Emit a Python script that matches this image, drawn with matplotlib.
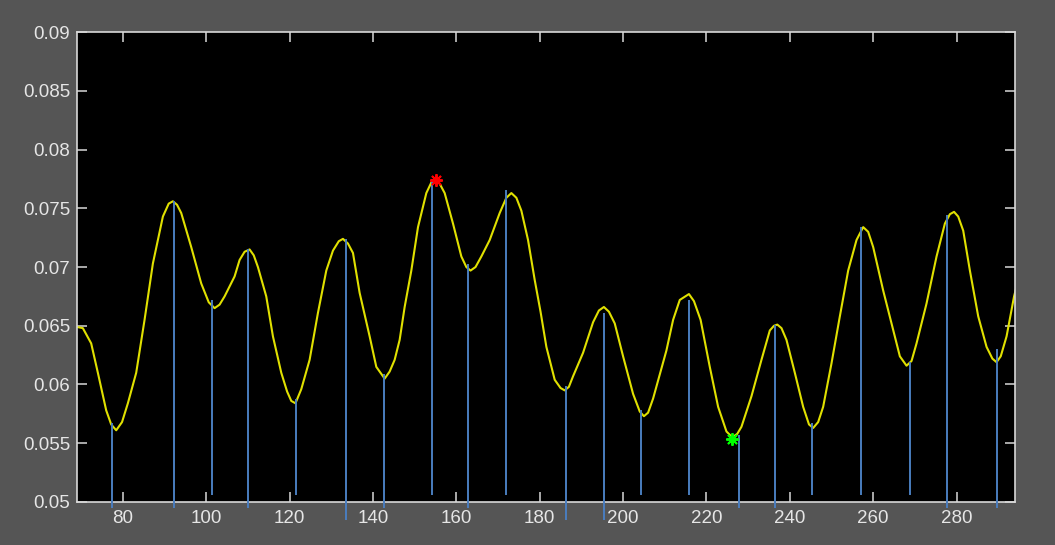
import numpy as np
import matplotlib
matplotlib.use('Agg')
import matplotlib.pyplot as plt

plt.rcParams['font.family'] = ['Liberation Sans', 'DejaVu Sans']

# yellow curve
curve_x = [69.0, 70.4, 72.4, 74.0, 76.0, 77.2, 78.4, 79.8, 81.2, 83.2, 85.2, 87.2, 89.6, 91.0, 92.0,
           93.0, 94.0, 96.4, 98.8, 100.6, 102.0, 103.2, 104.4, 106.8, 108.0, 109.2, 110.4, 111.4,
           112.4, 114.4, 116.0, 118.0, 119.4, 120.4, 121.4, 122.8, 124.8, 126.8, 128.8, 130.4,
           131.8, 132.8, 134.0, 135.2, 136.8, 139.2, 140.8, 142.8, 144.0, 145.2, 146.4, 147.6,
           149.2, 150.8, 152.8, 154.0, 154.8, 156.0, 157.2, 159.2, 161.2, 162.4, 163.4, 164.6,
           166.0, 168.0, 170.4, 172.0, 173.2, 174.4, 175.6, 177.2, 178.8, 180.2, 181.6, 183.6,
           185.0, 186.0, 187.0, 188.0, 190.4, 192.8, 194.2, 195.4, 196.6, 198.0, 200.0, 202.4,
           204.0, 205.0, 206.0, 207.2, 210.4, 212.0, 213.6, 215.8, 217.0, 218.6, 220.8, 222.8,
           224.8, 226.2, 227.4, 228.4, 230.8, 233.2, 235.2, 236.2, 237.0, 238.0, 239.2, 241.2,
           243.2, 244.6, 245.6, 246.8, 248.0, 250.0, 252.0, 254.0, 256.0, 257.6, 258.8, 260.0,
           262.4, 264.4, 266.4, 268.0, 269.2, 270.4, 272.8, 275.2, 277.2, 278.4, 279.4, 280.4,
           281.6, 283.2, 285.2, 287.2, 288.6, 289.6, 290.6, 292.0, 293.8, 294.5]
curve_y = [0.0649, 0.0648, 0.0635, 0.0610, 0.0578, 0.0566, 0.0561, 0.0568, 0.0584, 0.0610, 0.0655,
           0.0703, 0.0743, 0.0754, 0.0756, 0.0753, 0.0746, 0.0717, 0.0686, 0.0670, 0.0665, 0.0668,
           0.0675, 0.0692, 0.0706, 0.0713, 0.0715, 0.0710, 0.0700, 0.0675, 0.0641, 0.0610, 0.0594,
           0.0586, 0.0584, 0.0596, 0.0621, 0.0661, 0.0697, 0.0714, 0.0722, 0.0724, 0.0720, 0.0712,
           0.0678, 0.0641, 0.0615, 0.0605, 0.0611, 0.0621, 0.0638, 0.0666, 0.0697, 0.0734, 0.0763,
           0.0772, 0.0775, 0.0771, 0.0763, 0.0737, 0.0709, 0.0700, 0.0697, 0.0700, 0.0709, 0.0723,
           0.0746, 0.0759, 0.0763, 0.0759, 0.0748, 0.0723, 0.0689, 0.0662, 0.0632, 0.0604, 0.0597,
           0.0595, 0.0598, 0.0607, 0.0627, 0.0653, 0.0663, 0.0666, 0.0662, 0.0652, 0.0624, 0.0592,
           0.0577, 0.0573, 0.0576, 0.0588, 0.0629, 0.0655, 0.0672, 0.0677, 0.0671, 0.0655, 0.0615,
           0.0581, 0.0560, 0.0555, 0.0558, 0.0564, 0.0590, 0.0621, 0.0646, 0.0650, 0.0651, 0.0648,
           0.0638, 0.0610, 0.0581, 0.0566, 0.0563, 0.0568, 0.0581, 0.0618, 0.0658, 0.0697, 0.0723,
           0.0734, 0.0730, 0.0717, 0.0680, 0.0652, 0.0624, 0.0616, 0.0620, 0.0635, 0.0669, 0.0709,
           0.0737, 0.0745, 0.0747, 0.0743, 0.0731, 0.0697, 0.0658, 0.0632, 0.0622, 0.0619, 0.0624,
           0.0641, 0.0675, 0.0685]

# blue vertical markers at peaks / troughs
stem_x = [77.5, 92.2, 101.3, 109.9, 121.6, 133.6, 142.6, 154.2, 162.9, 171.9, 186.4,
          195.4, 204.2, 215.9, 227.8, 236.5, 245.3, 257.0, 268.8, 277.7, 289.6]
stem_top = [0.0567, 0.0756, 0.0672, 0.0715, 0.0588, 0.0724, 0.0609, 0.0775, 0.0703, 0.0766, 0.0599,
            0.0661, 0.0578, 0.0672, 0.0557, 0.0651, 0.0567, 0.0734, 0.0619, 0.0744, 0.0630]
stem_bottom = [0.0495, 0.0495, 0.0506, 0.0495, 0.0506, 0.0485, 0.0495, 0.0506, 0.0495, 0.0506, 0.0485,
               0.0485, 0.0506, 0.0506, 0.0495, 0.0495, 0.0506, 0.0506, 0.0506, 0.0495, 0.0495]

max_pt = (155.2, 0.0774)
min_pt = (226.2, 0.0554)

fig = plt.figure(figsize=(10.55, 5.45), dpi=100, facecolor='#555555')
ax = fig.add_axes([0.073, 0.079, 0.889, 0.862])
ax.set_facecolor('black')

ax.plot(curve_x, curve_y, color='#e0e000', lw=1.5)
ax.vlines(stem_x, stem_bottom, stem_top, colors='#4a7ebf', lw=1.4, clip_on=False, zorder=3)
ax.plot(*max_pt, marker=(8, 2, 0), color='red', ms=9, mew=1.4, zorder=4)
ax.plot(*min_pt, marker=(8, 2, 0), color='#00ff00', ms=9, mew=1.4, zorder=4)

ax.set_xlim(69, 294)
ax.set_ylim(0.05, 0.09)
ax.set_xticks(np.arange(80, 281, 20))
ax.set_yticks([0.05, 0.055, 0.06, 0.065, 0.07, 0.075, 0.08, 0.085, 0.09])
ax.set_yticklabels(['0.05', '0.055', '0.06', '0.065', '0.07', '0.075', '0.08', '0.085', '0.09'])

for s in ax.spines.values():
    s.set_color('#d8d8d8')
    s.set_linewidth(1.2)
ax.tick_params(direction='in', length=7.5, width=1.1, color='#d8d8d8',
               labelcolor='#e6e6e6', labelsize=13.5, top=True, right=True)
ax.tick_params(axis='x', pad=6)
ax.tick_params(axis='y', pad=5)

plt.savefig('out.png', dpi=100, facecolor=fig.get_facecolor())
